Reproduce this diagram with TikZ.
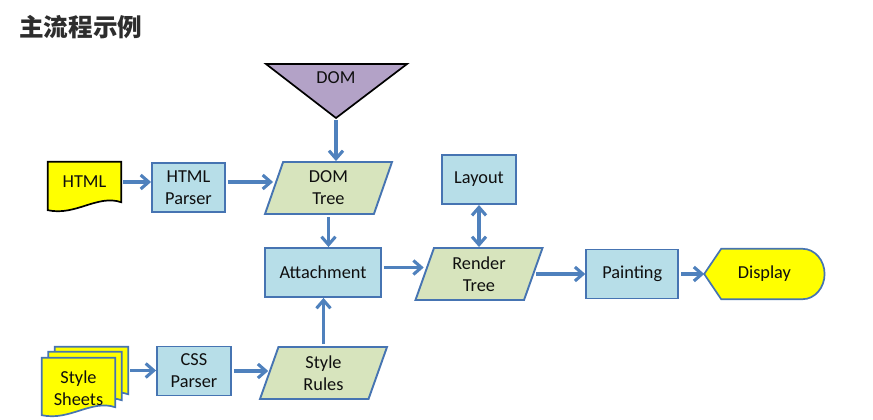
\documentclass[tikz,border=0pt]{standalone}
\usepackage{fontspec}
\setmainfont{Carlito}
\newfontfamily\cjk{Noto Sans CJK SC}
\usetikzlibrary{arrows.meta,positioning,shapes.geometric,calc,backgrounds}
\definecolor{boxblue}{RGB}{183,222,232}
\definecolor{boxgreen}{RGB}{215,228,189}
\definecolor{docyellow}{RGB}{255,255,0}
\definecolor{dompurple}{RGB}{179,162,199}
\definecolor{edgeblue}{RGB}{70,116,178}
\definecolor{arrowblue}{RGB}{79,129,189}
\definecolor{titlegray}{RGB}{45,45,45}
\definecolor{textgray}{RGB}{15,15,15}

% paper sheet with a wavy lower edge, drawn from the anchors of a node
% #2 = how far the right end of the wave sits above the node's south side
\newcommand{\docoutline}[2]{(#1.north west) -- (#1.north east) -- ($(#1.south east)+(0,-#2)$)
  .. controls ($(#1.south east)+(-24,-8-#2)$) and ($(#1.south west)+(28,14-#2)$) .. ($(#1.south west)+(0,8-#2)$) -- cycle}

\begin{document}
\begin{tikzpicture}[
  x=1pt, y=-1pt,
  every node/.style={font=\fontsize{18.3}{22}\selectfont, text=textgray},
  box/.style={rectangle, draw=edgeblue, fill=boxblue, line width=1.9pt, align=center, minimum height=49pt},
  para/.style={trapezium, trapezium left angle=66, trapezium right angle=114, trapezium stretches body, draw=edgeblue, fill=boxgreen, line width=1.9pt, align=center, minimum width=127pt, minimum height=52pt},
  doc/.style={rectangle, minimum width=73pt, inner sep=0pt, align=center},
  docline/.style={draw=edgeblue, fill=docyellow, line width=1.7pt},
  arr/.style={-{Straight Barb[length=8pt, width=14pt]}, draw=arrowblue, line width=3.1pt, shorten <=2pt},
  arrboth/.style={{Straight Barb[length=8pt, width=14pt]}-{Straight Barb[length=8pt, width=14pt]}, draw=arrowblue, line width=3.1pt}
]
\useasboundingbox (0,0) rectangle (873,420);

\node[font=\cjk\bfseries\fontsize{24.6}{28}\selectfont, text=titlegray, anchor=west, inner sep=0pt] (title) at (19,27) {主流程示例};

% DOM source
\coordinate (domtip) at (336,118);
\draw[fill=dompurple, draw=black, line width=1.7pt] (266,64) -- (407,64) -- (domtip) -- cycle;
\node (dom) at (336,78) {DOM};

% HTML branch
\node[doc, minimum height=40pt] (html) at (84.5,182) {HTML};
\node[box, minimum width=73pt] (hparse) at (188.5,187.5) {HTML\\Parser};
\node[para] (domtree) at (328.5,188) {DOM\\Tree};

% CSS branch
\node[doc, minimum height=47pt] (sheetc) at (91.5,370.5) {};
\node[doc, minimum height=48pt] (sheetb) at (85,376) {};
\node[doc, minimum height=60pt] (sheets) at (78.5,388) {Style\\Sheets};
\node[box, minimum width=74pt] (cparse) at (194,371) {CSS\\Parser};
\node[para] (srules) at (323.5,373) {Style\\Rules};

% main line
\node[box, minimum width=116pt] (attach) at (323,272.5) {Attachment};
\node[para] (rtree) at (479,274) {Render\\Tree};
\node[box, minimum width=74pt, above=42pt of rtree] (layout) {Layout};
\node[box, minimum width=92pt, right=51pt of rtree] (paint) {Painting};
\node[minimum width=120pt, minimum height=50pt, inner sep=0pt, right=25pt of paint] (disp) {Display};

\begin{scope}[on background layer]
\fill[white] (0,0) rectangle (873,420);
\draw[docline, draw=black] \docoutline{html}{0};
\draw[docline] \docoutline{sheetc}{0};
\draw[docline] \docoutline{sheetb}{0};
\draw[docline] \docoutline{sheets}{11};
\draw[docline] (disp.west) -- ($(disp.north west)+(17,0)$) -- ($(disp.north east)+(-22,0)$)
  .. controls ($(disp.north east)+(-9.8,0)$) and ($(disp.east)+(0,-13.8)$) .. (disp.east)
  .. controls ($(disp.east)+(0,13.8)$) and ($(disp.south east)+(-9.8,0)$) .. ($(disp.south east)+(-22,0)$)
  -- ($(disp.south west)+(17,0)$) -- cycle;
\end{scope}

\draw[arr] (domtip) -- (domtip |- domtree.north);
\draw[arr] (html.east) -- (html.east -| hparse.west);
\draw[arr] (hparse.east |- html.east) -- (html.east -| domtree.west);
\draw[arr] (domtree.south) -- (domtree.south |- attach.north);
\draw[arr] (srules.north) -- (srules.north |- attach.south);
\draw[arr] ([yshift=5pt]attach.east) -- ([yshift=5pt]attach.east -| rtree.west);
\draw[arr] (rtree.east) -- (rtree.east -| paint.west);
\draw[arr] (paint.east) -- (disp.west);
\draw[arrboth] (layout.south) -- (layout.south |- rtree.north);
\draw[arr] (sheetc.east) -- (sheetc.east -| cparse.west);
\draw[arr] (cparse.east) -- (cparse.east -| srules.west);
\end{tikzpicture}
\end{document}
